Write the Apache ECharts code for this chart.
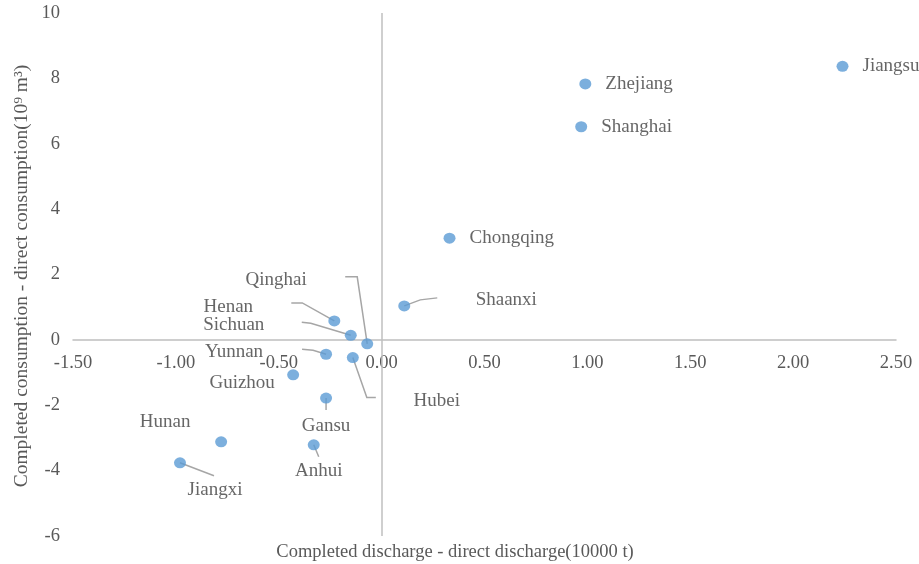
<!DOCTYPE html>
<html>
<head>
<meta charset="utf-8">
<script src="https://cdn.jsdelivr.net/npm/echarts@6/dist/echarts.min.js"></script>
<style>
  html, body { margin: 0; padding: 0; background: #fff; }
  #chart { width: 919px; height: 564px; }
</style>
</head>
<body>
<div id="chart"></div>
<script>
// Provinces and their differences (completed minus direct)
const provinces = ['Jiangsu', 'Zhejiang', 'Shanghai', 'Chongqing', 'Shaanxi', 'Qinghai', 'Henan',
  'Sichuan', 'Yunnan', 'Hubei', 'Guizhou', 'Gansu', 'Hunan', 'Anhui', 'Jiangxi'];
// Completed discharge - direct discharge (10000 t)
const dischargeDiff = [2.24, 0.99, 0.97, 0.33, 0.11, -0.07, -0.23,
  -0.15, -0.27, -0.14, -0.43, -0.27, -0.78, -0.33, -0.98];
// Completed consumption - direct consumption (10^9 m^3)
const consumptionDiff = [8.37, 7.83, 6.52, 3.11, 1.04, -0.12, 0.58,
  0.14, -0.44, -0.54, -1.07, -1.78, -3.12, -3.21, -3.76];

const xTicks = { min: -1.5, max: 2.5, step: 0.5 };
const yTicks = { min: -6, max: 10, step: 2 };

// Label placement: centre offset in px from the marker (others sit to the right)
const labelOffsets = {
  Shaanxi: [102, -6], Qinghai: [-91, -64], Henan: [-106, -14], Sichuan: [-117, -10],
  Yunnan: [-92, -2], Hubei: [84, 43], Guizhou: [-51, 8], Gansu: [0, 28],
  Hunan: [-56, -20], Anhui: [5, 26], Jiangxi: [35, 27]
};
// Leader line bends, px relative to the marker
const leaderBends = {
  Shaanxi: [[16, -6], [33, -8]],
  Qinghai: [[-10, -67], [-22, -67]],
  Henan: [[-32, -18], [-43, -18]],
  Sichuan: [[-40, -12], [-49, -13]],
  Yunnan: [[-13, -4], [-24, -5]],
  Hubei: [[14, 40], [23, 40]],
  Gansu: [[0, 12]],
  Anhui: [[5, 12]],
  Jiangxi: [[34, 13]]
};

const FONT = '"Liberation Serif", "Times New Roman", serif';
const AXIS_GREY = '#bfbfbf';
const GRID = { left: 73, right: 23, top: 13, bottom: 28 };
const CHART_H = 564;

// Distance from the grid bottom up to the y = 0 line, so the x axis (line + labels) sits there
const plotH = CHART_H - GRID.top - GRID.bottom;
const zeroShift = plotH * (0 - yTicks.min) / (yTicks.max - yTicks.min);

const points = provinces.map((name, i) => {
  const item = { name: name, value: [dischargeDiff[i], consumptionDiff[i]] };
  if (labelOffsets[name]) {
    item.label = { position: 'inside', offset: labelOffsets[name], align: 'center', verticalAlign: 'middle' };
  }
  return item;
});

const leaderData = provinces
  .map((name, i) => ({ name: name, value: [dischargeDiff[i], consumptionDiff[i]] }))
  .filter(d => leaderBends[d.name]);

const chart = echarts.init(document.getElementById('chart'), null, { renderer: 'canvas' });

chart.setOption({
  backgroundColor: '#ffffff',
  animation: false,
  grid: GRID,
  xAxis: {
    type: 'value',
    position: 'bottom',
    offset: -zeroShift,
    min: xTicks.min, max: xTicks.max, interval: xTicks.step,
    axisLine: { onZero: false, lineStyle: { color: AXIS_GREY, width: 1.5 } },
    axisTick: { show: false },
    splitLine: { show: false },
    axisLabel: {
      margin: 14,
      color: '#595959', fontFamily: FONT, fontSize: 18.5,
      formatter: v => v.toFixed(2)
    }
  },
  yAxis: {
    type: 'value',
    min: yTicks.min, max: yTicks.max, interval: yTicks.step,
    axisLine: { show: false, onZero: false },
    axisTick: { show: false },
    splitLine: { show: false },
    axisLabel: { margin: 13, color: '#595959', fontFamily: FONT, fontSize: 18.5 }
  },
  graphic: [
    {
      type: 'text', x: 455, y: 552,
      style: {
        text: 'Completed discharge - direct discharge(10000 t)',
        font: '18.5px ' + FONT, fill: '#595959', align: 'center', verticalAlign: 'middle'
      }
    },
    {
      type: 'text', x: 22, y: 276, rotation: Math.PI / 2,
      style: {
        text: 'Completed consumption - direct consumption(10\u2079 m\u00B3)',
        font: '19.5px ' + FONT, fill: '#595959', align: 'center', verticalAlign: 'middle'
      }
    }
  ],
  series: [
    {
      type: 'custom',
      z: 1,
      silent: true,
      data: leaderData,
      renderItem: function (params, api) {
        const p = api.coord([api.value(0), api.value(1)]);
        const name = leaderData[params.dataIndex].name;
        const pts = [p].concat(leaderBends[name].map(d => [p[0] + d[0], p[1] + d[1]]));
        return {
          type: 'polyline',
          shape: { points: pts },
          style: { stroke: '#a6a6a6', lineWidth: 1.5, fill: null }
        };
      }
    },
    {
      type: 'scatter',
      z: 2,
      symbol: 'circle',
      symbolSize: [12, 11],
      itemStyle: { color: '#5b9bd5' },
      label: {
        show: true,
        position: 'right',
        distance: 14,
        formatter: '{b}',
        color: '#404040',
        fontFamily: FONT,
        fontSize: 19
      },
      data: points,
      markLine: {
        silent: true,
        symbol: ['none', 'none'],
        label: { show: false },
        lineStyle: { color: AXIS_GREY, width: 1.5, type: 'solid' },
        data: [{ xAxis: 0 }]
      }
    }
  ]
});
</script>
</body>
</html>
